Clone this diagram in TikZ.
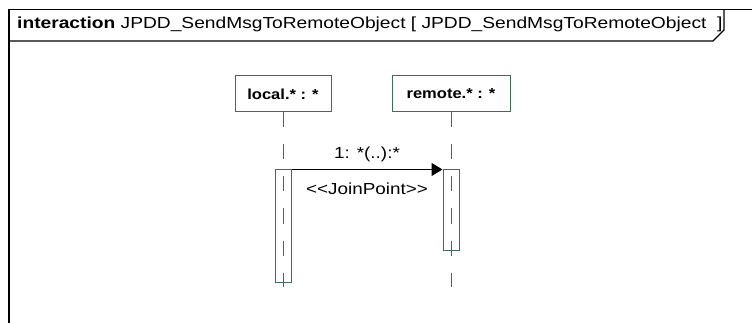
\documentclass[tikz,border=0pt]{standalone}
\usepackage{fontspec}
\setmainfont{Liberation Sans}
\usepackage{graphicx}
\usepackage{tikz}
\usetikzlibrary{arrows.meta,positioning}
\definecolor{umlGreen}{HTML}{3E6E58}
\newcommand{\widetext}[2]{\scalebox{#1}[1]{#2}}
\tikzset{
  frame line/.style={draw=black, line width=1.2pt},
  lifeline box/.style={draw=umlGreen, line width=1pt, minimum height=36pt,
    inner sep=2pt, font=\fontsize{14.5}{16}\selectfont\bfseries},
  lifeline/.style={draw=umlGreen, line width=1pt, dash pattern=on 15pt off 17pt},
  activation/.style={draw=umlGreen, line width=1pt, minimum width=16pt,
    inner sep=0pt},
  call/.style={-{Triangle[length=11pt,width=13pt]}, line width=1pt, draw=black},
  msg label/.style={font=\fontsize{16}{18}\selectfont, inner sep=1pt}
}

\begin{document}
\begin{tikzpicture}[x=1pt,y=-1pt]
  \useasboundingbox (0,0) rectangle (752,323);
  % frame of the interaction
  \draw[frame line] (9,330) -- (9,9.5) -- (760,9.5);
  \draw[frame line] (9,41) -- (713,41) -- (724,30) -- (724,9.5);
  \node[anchor=base west, inner sep=0pt, font=\fontsize{16}{18}\selectfont] (title) at (17,29)
    {\widetext{1.2}{\textbf{interaction} JPDD\_SendMsgToRemoteObject [ JPDD\_SendMsgToRemoteObject \ ]}};

  % lifelines
  \node[lifeline box, minimum width=96pt] (local) at (283,94) {\widetext{1.14}{local.* : *}};
  \node[lifeline box, minimum width=118pt] (remote) at (451,94) {\widetext{1.14}{remote.* : *}};
  \coordinate (localend) at (283,287);
  \coordinate (remoteend) at (451,287);
  \draw[lifeline] (local.south) -- (localend);
  \draw[lifeline] (remote.south) -- (remoteend);

  % activations
  \node[activation, minimum height=112pt] (localbar) at (283,226) {};
  \node[activation, minimum height=80pt] (remotebar) at (451,210) {};

  % message
  \draw[call] (localbar.north east) -- (remotebar.north west)
    node[msg label, midway, above=6.5pt] (name) {\widetext{1.18}{1: *(..):*}}
    node[msg label, midway, below=12pt] (stereo)
      {\widetext{1.18}{<\kern0pt<JoinPoint>\kern0pt>}};
\end{tikzpicture}
\end{document}
